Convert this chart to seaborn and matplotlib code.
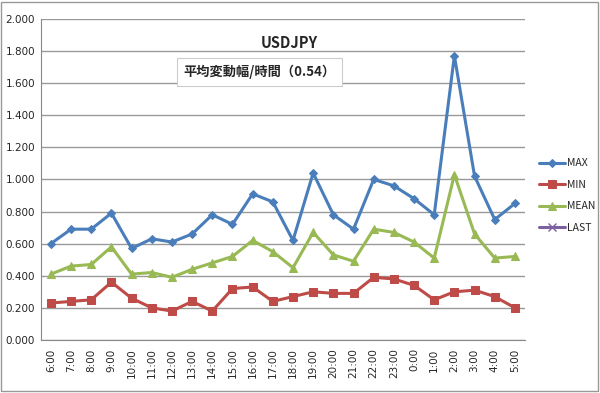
import numpy as np
import pandas as pd
import seaborn as sns
import matplotlib.pyplot as plt
from matplotlib.patches import Rectangle

hours = ['6:00', '7:00', '8:00', '9:00', '10:00', '11:00', '12:00', '13:00',
         '14:00', '15:00', '16:00', '17:00', '18:00', '19:00', '20:00', '21:00',
         '22:00', '23:00', '0:00', '1:00', '2:00', '3:00', '4:00', '5:00']
max_vals = [0.60, 0.69, 0.69, 0.79, 0.57, 0.63, 0.61, 0.66, 0.78, 0.72, 0.91, 0.86,
            0.62, 1.04, 0.78, 0.69, 1.00, 0.96, 0.88, 0.78, 1.77, 1.02, 0.75, 0.85]
min_vals = [0.23, 0.24, 0.25, 0.36, 0.26, 0.20, 0.18, 0.24, 0.18, 0.32, 0.33, 0.24,
            0.27, 0.30, 0.29, 0.29, 0.39, 0.38, 0.34, 0.25, 0.30, 0.31, 0.27, 0.20]
mean_vals = [0.41, 0.46, 0.47, 0.58, 0.41, 0.42, 0.39, 0.44, 0.48, 0.52, 0.62, 0.55,
             0.45, 0.67, 0.53, 0.49, 0.69, 0.67, 0.61, 0.51, 1.03, 0.66, 0.51, 0.52]
title = 'USDJPY'
note = '平均変動幅/時間（0.54）'

sns.set_style('white')
plt.rcParams['font.family'] = ['Noto Sans CJK JP', 'DejaVu Sans']

fig = plt.figure(figsize=(6.0, 3.93), dpi=100)
ax = fig.add_axes([0.068, 0.135, 0.807, 0.817])

pos = np.arange(len(hours))
series = [
    ('MAX', max_vals, '#4A7EBB', 'D', 4),
    ('MIN', min_vals, '#BE4B48', 's', 6),
    ('MEAN', mean_vals, '#98B954', '^', 6),
]
for name, vals, col, mk, ms in series:
    sns.lineplot(x=pos, y=vals, ax=ax, color=col, marker=mk, markersize=ms,
                 markeredgecolor=col, linewidth=2.2, label=name)
# LAST has no visible data, legend entry only
ax.plot([], [], color='#7D60A0', marker='x', markersize=6, linewidth=2.2, label='LAST')

ax.set_xlim(-0.5, len(hours) - 0.5)
ax.set_ylim(0, 2.0)
ax.set_yticks(np.arange(0, 2.01, 0.2))
ax.set_yticklabels([f'{v:.3f}' for v in np.arange(0, 2.01, 0.2)], fontsize=7.5,
                   family=['DejaVu Sans'])
ax.set_xticks(pos)
ax.set_xticklabels(hours, rotation=90, fontsize=7.5, family=['DejaVu Sans'])
ax.tick_params(axis='x', length=0, pad=6)
ax.set_xticks(np.arange(-0.5, len(hours), 1), minor=True)
ax.tick_params(axis='x', which='minor', length=4, color='#888888', direction='out')
ax.tick_params(axis='y', length=0, pad=4)
ax.grid(axis='y', color='#999999', linewidth=1)
for s in ['top', 'right']:
    ax.spines[s].set_visible(False)
for s in ['left', 'bottom']:
    ax.spines[s].set_color('#888888')
ax.set_xlabel('')
ax.set_ylabel('')

ax.text(0.514, 0.925, title, transform=ax.transAxes, ha='center', va='center',
        fontsize=10.5, fontweight='bold')
ax.text(0.452, 0.835, note, transform=ax.transAxes, ha='center', va='center',
        fontsize=9.5, fontweight='bold',
        bbox=dict(boxstyle='square,pad=0.5', fc='white', ec='#cccccc', lw=0.8))

leg = ax.legend(loc='center left', bbox_to_anchor=(1.01, 0.45), frameon=False,
                fontsize=7.5, handlelength=2.5, labelspacing=1.1, handletextpad=0.2)

fig.patches.append(Rectangle((0.002, 0.006), 0.994, 0.99, transform=fig.transFigure,
                             fill=False, ec='#999999', lw=1))

fig.savefig('out.png', dpi=100)
